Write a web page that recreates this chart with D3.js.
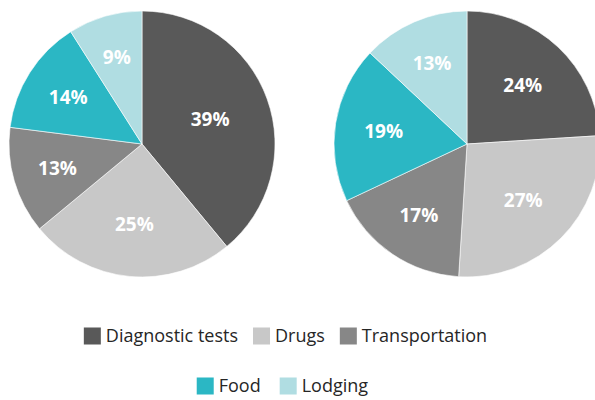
<!DOCTYPE html>
<html>
<head>
<meta charset="utf-8">
<script src="https://cdn.jsdelivr.net/npm/d3@7"></script>
<style>
  body { margin: 0; background: #fff; }
  svg { display: block; font-family: "Open Sans", "Noto Sans", sans-serif; }
</style>
</head>
<body>
<div id="chart"></div>
<script>
const categories = ["Diagnostic tests", "Drugs", "Transportation", "Food", "Lodging"];
const leftValues = [39, 25, 13, 14, 9];
const rightValues = [24, 27, 17, 19, 13];
const colors = ["#595959", "#c8c8c8", "#878787", "#2bb7c4", "#b0dde2"];

const width = 595, height = 400;
const radius = 133;

const svg = d3.select("#chart")
  .append("svg")
  .attr("width", width)
  .attr("height", height);

const color = d3.scaleOrdinal().domain(categories).range(colors);
const pie = d3.pie().sort(null).value(d => d.value);
const arc = d3.arc().innerRadius(0).outerRadius(radius);

// "best fit" style: smaller slices get their label pushed further out
function labelPos(d) {
  const frac = (d.endAngle - d.startAngle) / (2 * Math.PI);
  const r = radius * (0.72 - 0.45 * frac);
  const a = (d.startAngle + d.endAngle) / 2;
  return [Math.sin(a) * r, -Math.cos(a) * r];
}

function drawPie(values, cx, cy) {
  const data = categories.map((c, i) => ({ name: c, value: values[i] }));
  const g = svg.append("g").attr("transform", `translate(${cx},${cy})`);
  const slices = g.selectAll("g.slice").data(pie(data)).enter().append("g");
  slices.append("path")
    .attr("d", arc)
    .attr("fill", d => color(d.data.name))
    .attr("stroke", "#fff")
    .attr("stroke-width", 0.6);
  slices.append("text")
    .attr("transform", d => `translate(${labelPos(d)})`)
    .attr("text-anchor", "middle")
    .attr("dy", "0.36em")
    .attr("fill", "#fff")
    .attr("font-size", "19px")
    .attr("font-weight", "bold")
    .text(d => d.data.value + "%");
}

drawPie(leftValues, 142, 144);
drawPie(rightValues, 467, 144);

// legend, two centred rows
const rows = [categories.slice(0, 3), categories.slice(3)];
const rowY = [336, 386];
rows.forEach((row, r) => {
  const lg = svg.append("g");
  let x = 0;
  row.forEach(name => {
    const item = lg.append("g").attr("transform", `translate(${x},0)`);
    item.append("rect")
      .attr("x", 0).attr("y", -8.5)
      .attr("width", 17).attr("height", 17)
      .attr("fill", color(name));
    const t = item.append("text")
      .attr("x", 22).attr("y", 0)
      .attr("dy", "0.35em")
      .attr("font-size", "18px")
      .attr("fill", "#262626")
      .text(name);
    x += 22 + t.node().getComputedTextLength() + (r === 0 ? 15 : 19);
  });
  const w = lg.node().getBBox().width;
  lg.attr("transform", `translate(${(width - w) / 2 + (r === 0 ? -12 : -15)},${rowY[r]})`);
});
</script>
</body>
</html>
